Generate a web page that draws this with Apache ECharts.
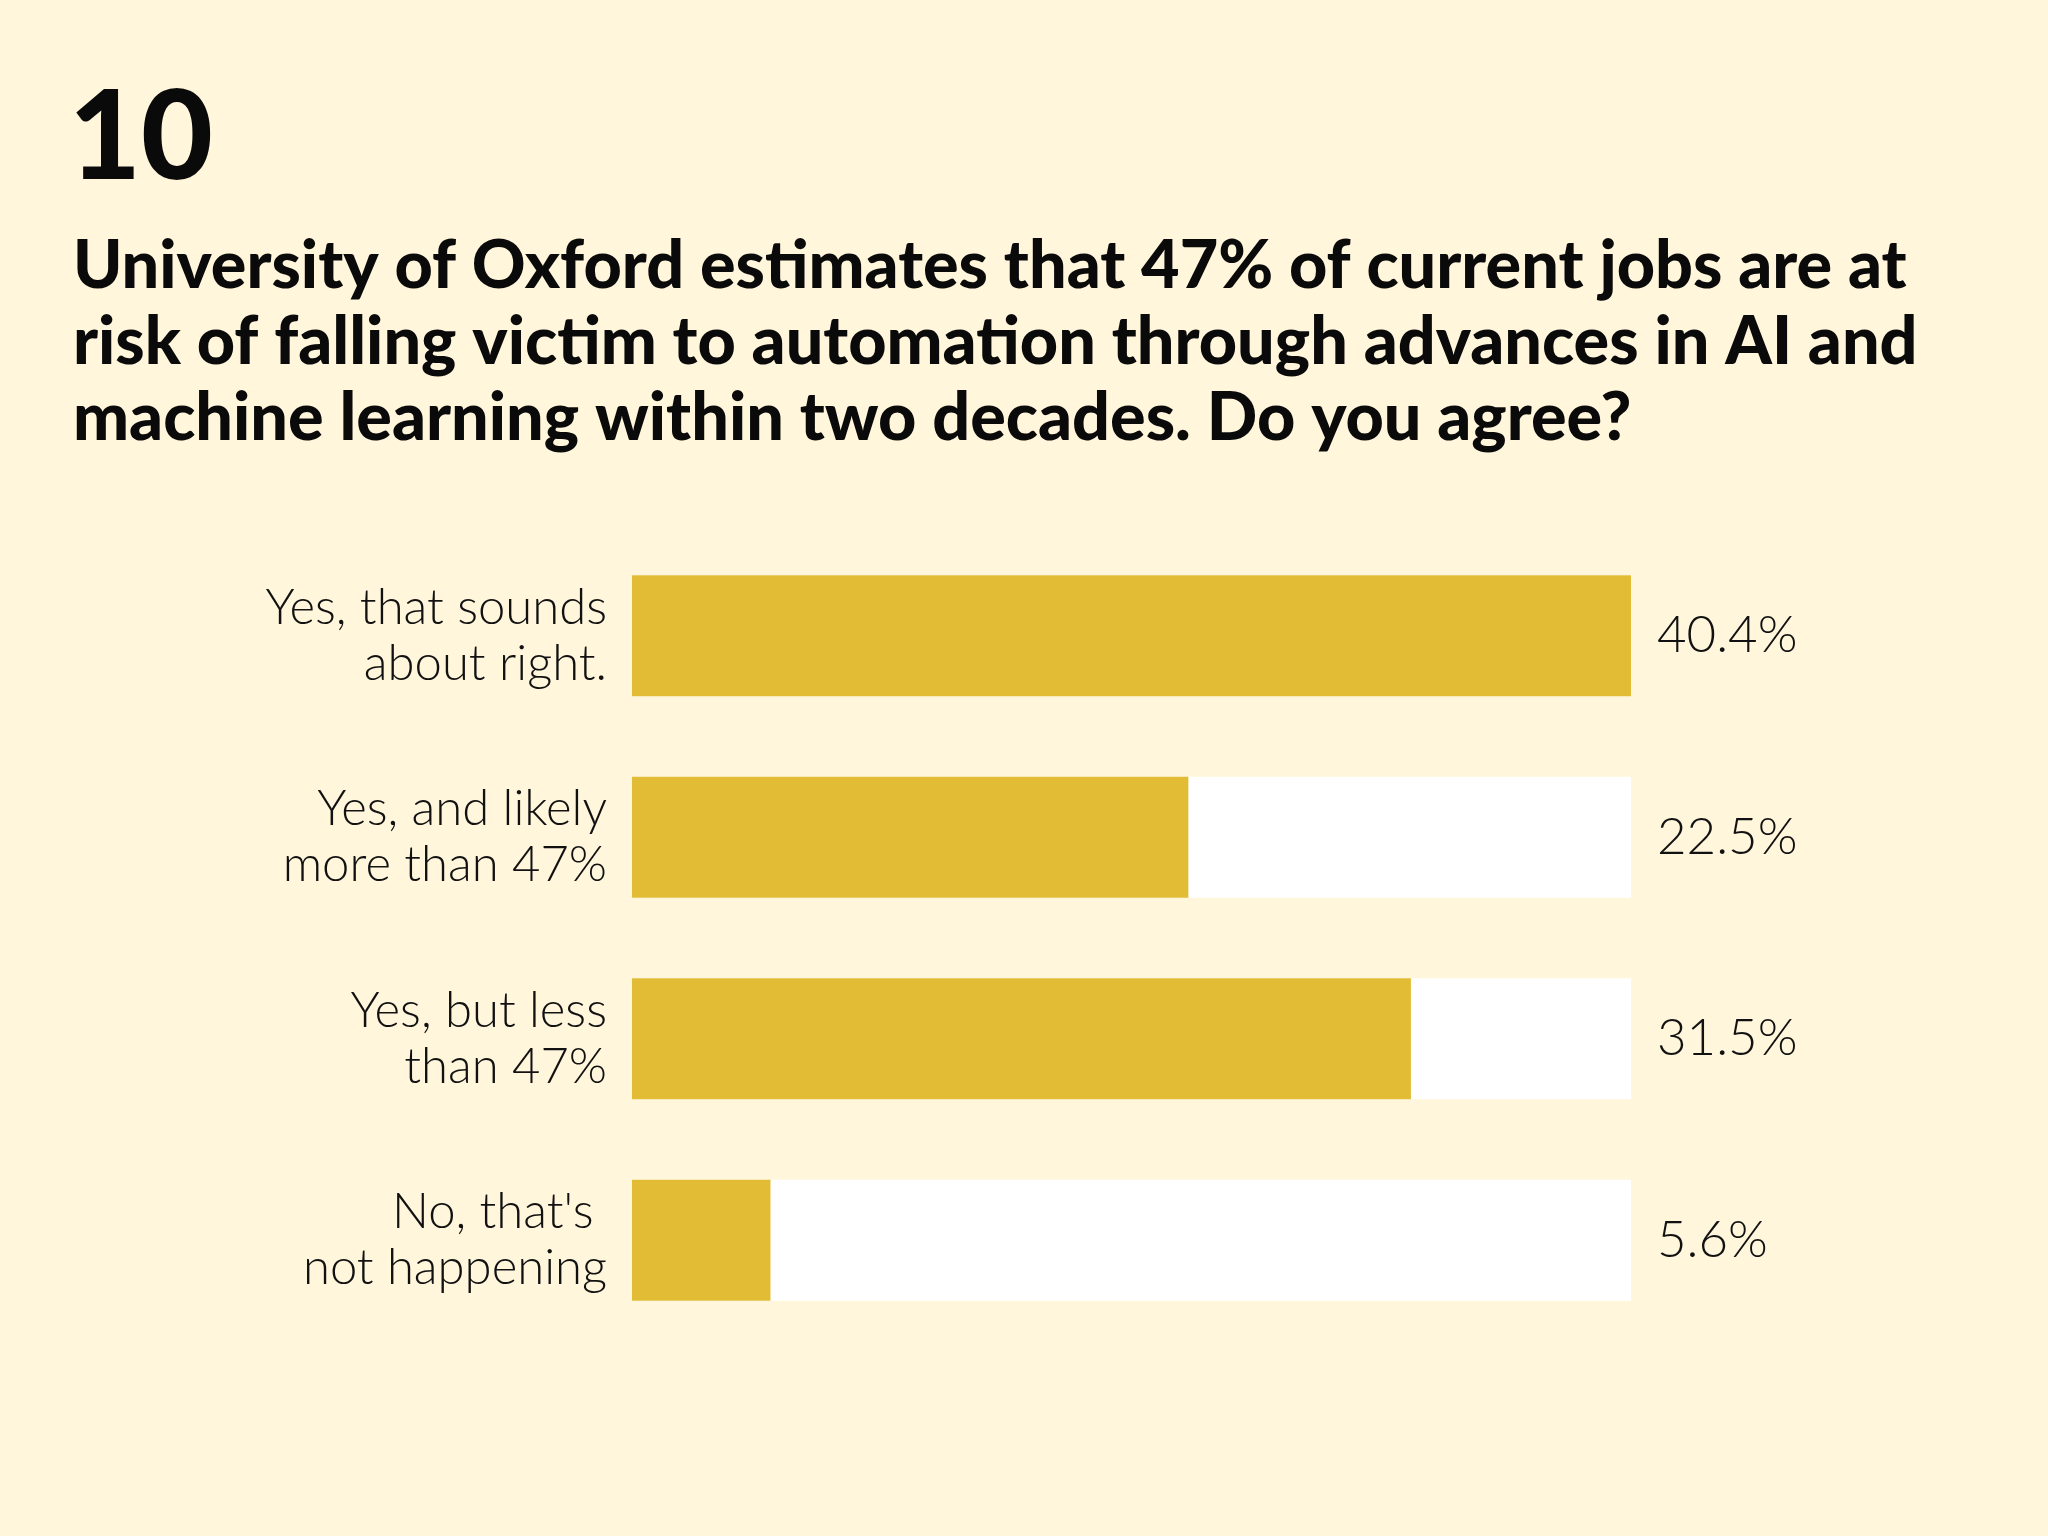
<!DOCTYPE html>
<html>
<head>
<meta charset="utf-8">
<script src="https://cdn.jsdelivr.net/npm/echarts@6/dist/echarts.min.js"></script>
<style>
html,body{margin:0;padding:0;background:#FFF6DC;}
#c{width:2048px;height:1536px;}
</style>
</head>
<body>
<div id="c"></div>
<script>
const questionNumber = '10';
const questionLines = [
  'University of Oxford estimates that 47% of current jobs are at',
  'risk of falling victim to automation through advances in AI and',
  'machine learning within two decades. Do you agree?'
];
const categories = [
  'Yes, that sounds\nabout right.',
  'Yes, and likely\nmore than 47%',
  'Yes, but less\nthan 47%',
  "No, that's \nnot happening"
];
const values = [40.4, 22.5, 31.5, 5.6];
const valueLabels = ['40.4%', '22.5%', '31.5%', '5.6%'];

const chart = echarts.init(document.getElementById('c'));
chart.setOption({
  backgroundColor: '#FFF6DC',
  animation: false,
  title: [
    {
      text: questionNumber,
      left: 64, top: 72,
      textStyle: {fontFamily: 'Lato', fontWeight: 900, fontSize: 124, color: '#0a0a0a'}
    },
    {
      text: questionLines.join('\n'),
      left: 68, top: 224,
      textStyle: {fontFamily: 'Lato', fontWeight: 900, fontSize: 66.5, lineHeight: 76, color: '#0a0a0a'}
    }
  ],
  grid: {left: 632, right: 417, top: 535, height: 806, containLabel: false},
  xAxis: {type: 'value', min: 0, max: 40.4, show: false},
  yAxis: [
    {
      type: 'category', data: categories, inverse: true,
      axisLine: {show: false}, axisTick: {show: false}, splitLine: {show: false},
      axisLabel: {
        margin: 25, fontFamily: 'Lato', fontWeight: 300, fontSize: 49, lineHeight: 56,
        color: '#111', align: 'right'
      }
    },
    {
      type: 'category', data: valueLabels, inverse: true, position: 'right',
      axisLine: {show: false}, axisTick: {show: false}, splitLine: {show: false},
      axisLabel: {
        margin: 26, fontFamily: 'Lato', fontWeight: 300, fontSize: 51,
        color: '#111', align: 'left'
      }
    }
  ],
  series: [{
    type: 'bar',
    data: values,
    barWidth: 121,
    itemStyle: {color: '#E3BC36'},
    showBackground: true,
    backgroundStyle: {color: '#FFFFFF'}
  }]
});
</script>
</body>
</html>
